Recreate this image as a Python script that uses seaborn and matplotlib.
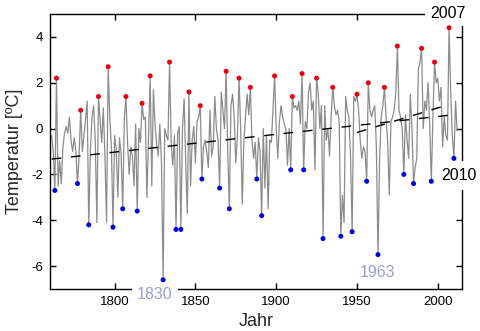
import numpy as np
import pandas as pd
import matplotlib
matplotlib.use("Agg")
import matplotlib.pyplot as plt
import seaborn as sns

# ---------------- data ----------------
years = list(range(1761, 2013))
temps = [
    -0.3, -1.0, -2.7, 2.2, -2.5, -1.4, -2.4, -0.8, -0.2, 0.1,          # 1761-1770
    -0.2, 0.5, -0.5, -1.0, -0.4, -1.0, -2.4, -1.2, 0.8, -1.0,          # 1771-1780
    -0.3, 0.4, 1.2, -4.2, -1.0, 0.5, 1.0, -0.5, -4.1, 1.4,             # 1781-1790
    0.4, -0.6, 0.9, -1.2, -4.1, 2.7, 0.5, -0.8, -4.3, -0.3,            # 1791-1800
    -0.9, -3.0, -0.4, -1.1, -3.5, 0.4, 1.4, -0.6, -2.0, -0.8,          # 1801-1810
    -1.2, -2.5, 0.2, -3.6, 0.0, -0.6, 1.1, 0.4, 0.5, -3.0,             # 1811-1820
    -0.3, 2.3, -2.5, 1.7, 0.2, -0.7, -1.2, 0.2, -1.5, -6.6,            # 1821-1830
    0.0, -0.3, -0.5, 2.9, -0.6, -1.6, -0.3, -4.4, -0.2, 0.1,           # 1831-1840
    -4.4, 0.0, 1.3, -1.5, -3.7, 1.6, -2.5, -0.5, 0.1, -1.5,            # 1841-1850
    0.3, 0.5, 1.0, -2.2, -0.8, -0.5, -1.0, -1.7, 0.8, -1.2,            # 1851-1860
    -0.8, 1.4, 0.0, -0.5, -2.6, 1.6, 0.8, 0.0, 2.5, -1.0,              # 1861-1870
    -3.5, 1.0, 1.5, 0.5, -1.5, -0.3, 2.2, 0.0, -3.3, -0.5,             # 1871-1880
    0.5, 1.5, 0.6, 1.8, -0.5, -1.3, -0.6, -2.2, -0.4, -1.0,            # 1881-1890
    -3.8, 0.0, -2.6, -0.3, -3.5, -0.5, -0.6, 0.8, 2.3, 0.0,            # 1891-1900
    -1.3, 0.3, 1.0, 0.5, 0.2, 0.0, -1.6, 0.0, -1.8, 1.4,               # 1901-1910
    0.9, 1.0, 0.8, 1.2, 0.2, 2.4, -1.8, 0.3, 0.0, 1.6,                 # 1911-1920
    2.0, 0.8, 1.2, -1.8, 2.2, 1.6, 0.0, 1.0, -4.8, 1.0,                # 1921-1930
    -0.5, 0.0, -1.2, 0.5, 1.8, 1.0, 0.6, 0.8, 0.3, -4.7,               # 1931-1940
    -2.9, -4.1, 1.4, 0.8, 0.5, -1.2, -4.5, 1.4, 1.2, 1.5,              # 1941-1950
    0.8, -0.5, -1.3, -0.8, -1.0, -2.3, 2.0, 0.8, 0.5, 0.8,             # 1951-1960
    1.0, -0.8, -5.5, -1.3, 0.5, 1.0, 1.8, 0.5, -0.6, -2.9,             # 1961-1970
    0.3, 0.5, 0.8, 1.5, 3.6, 0.8, 0.5, 0.0, -2.0, 0.6,                 # 1971-1980
    -0.5, -1.3, 1.5, 0.0, -2.4, -1.7, -1.3, 2.6, 2.9, 3.5,             # 1981-1990
    0.0, 1.2, 0.8, 2.0, 0.2, -2.3, 0.5, 2.9, 2.0, 2.2,                 # 1991-2000
    1.2, 1.8, -0.8, 0.5, -0.3, -0.5, 4.4, 1.6, -0.3, -1.3,             # 2001-2010
    1.2, -0.1,                                                         # 2011-2012
]
warm_years = [1764, 1779, 1790, 1796, 1807, 1817, 1822, 1834, 1846, 1853,
              1869, 1877, 1884, 1899, 1910, 1916, 1925, 1935, 1950, 1957,
              1967, 1975, 1990, 1998, 2007]
cold_years = [1763, 1777, 1784, 1799, 1805, 1814, 1830, 1838, 1841, 1854,
              1865, 1871, 1888, 1891, 1909, 1917, 1929, 1940, 1947, 1956,
              1963, 1979, 1985, 1996, 2010]
trend_long_years = [1761, 2012]
trend_long_vals = [-1.33, 0.62]
trend_recent_years = [1950, 2006]
trend_recent_vals = [-0.17, 1.03]
xticks = [1800, 1850, 1900, 1950, 2000]
yticks = [-6, -4, -2, 0, 2, 4]

# ---------------- plot ----------------
sns.set_style("ticks")
plt.rcParams["font.family"] = ["Liberation Sans", "DejaVu Sans"]
plt.rcParams["axes.unicode_minus"] = False

fig = plt.figure(figsize=(4.8, 3.31), dpi=100)
ax = fig.add_axes([50 / 480, 1 - 289 / 331, 412 / 480, 275 / 331])

df = pd.DataFrame({"Jahr": years, "T": temps})
sns.lineplot(data=df, x="Jahr", y="T", color="#8c8c8c", lw=0.9,
             errorbar=None, ax=ax, zorder=2)

ax.plot(trend_long_years, trend_long_vals, color="black", lw=1.0,
        linestyle=(0, (7, 7)), zorder=2.2)
ax.plot(trend_recent_years, trend_recent_vals, color="black", lw=1.0,
        linestyle=(0, (7, 7)), zorder=2.2)

warm = df[df["Jahr"].isin(warm_years)]
cold = df[df["Jahr"].isin(cold_years)]
sns.scatterplot(data=warm, x="Jahr", y="T", color="#e8000e", s=13,
                edgecolor="none", ax=ax, zorder=6)
sns.scatterplot(data=cold, x="Jahr", y="T", color="#0000e0", s=13,
                edgecolor="none", ax=ax, zorder=6)

ax.set_xlim(1760, 2015)
ax.set_ylim(-7, 5)
ax.set_xticks(xticks)
ax.set_yticks(yticks)
ax.tick_params(direction="in", top=True, right=True, length=4, width=1,
               labelsize=9.5, pad=5, colors="black")
for s in ax.spines.values():
    s.set_linewidth(1.0)
    s.set_color("black")

ax.set_xlabel("Jahr", fontsize=13, labelpad=4)
ax.set_ylabel("Temperatur [ºC]", fontsize=13, labelpad=6)

ax.text(1825, -7.26, "1830", color="#9d9dd6", fontsize=11.5, ha="center",
        va="center", bbox=dict(facecolor="white", edgecolor="none", pad=4),
        clip_on=False, zorder=5)
ax.text(1962.8, -6.26, "1963", color="#9d9dd6", fontsize=11.5, ha="center",
        va="center", zorder=5)
ax.text(2006.2, 5.04, "2007", color="black", fontsize=11.5, ha="center",
        va="center", bbox=dict(facecolor="white", edgecolor="none", pad=4),
        clip_on=False, zorder=5)
ax.text(2013.3, -2.04, "2010", color="black", fontsize=11.5, ha="center",
        va="center", bbox=dict(facecolor="white", edgecolor="none", pad=5),
        clip_on=False, zorder=5)

fig.savefig("out.png", dpi=100)
